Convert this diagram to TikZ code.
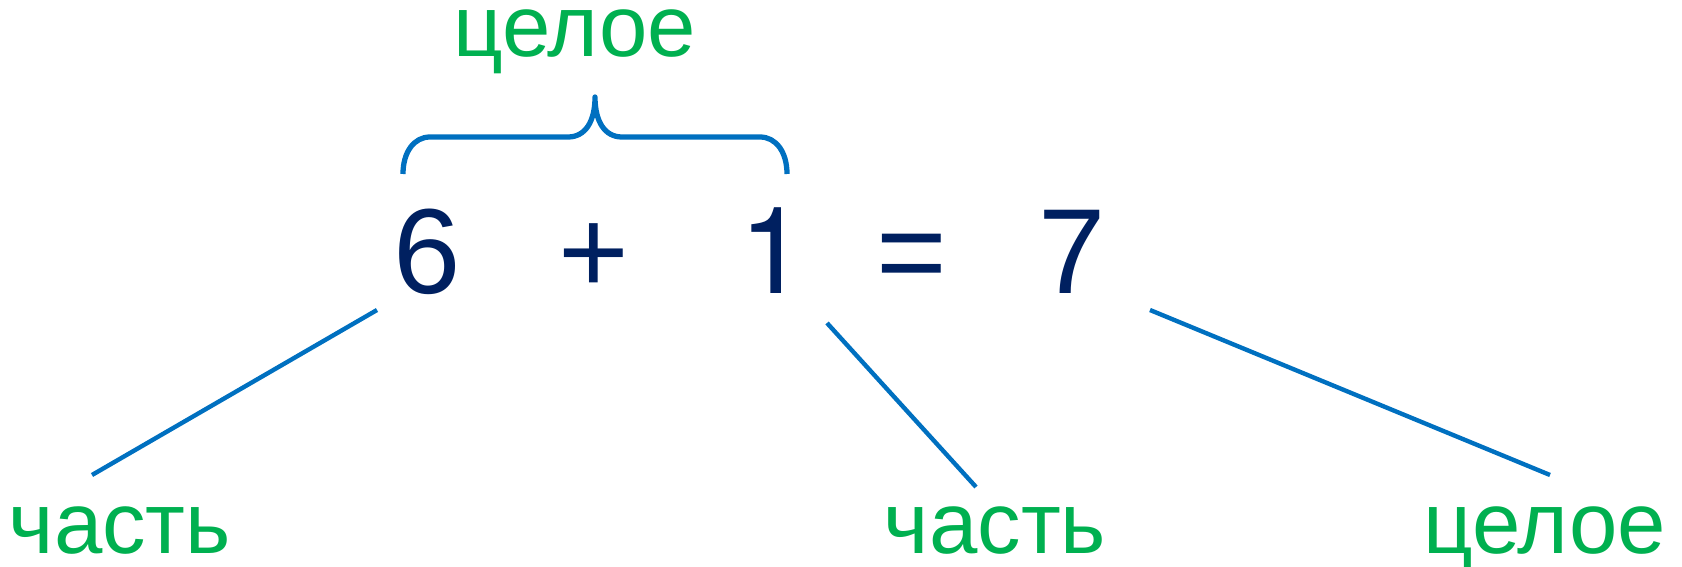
\documentclass[tikz,border=0pt]{standalone}
\usepackage{fontspec}
\setmainfont{Liberation Sans}
\newfontfamily\herosfont{TeX Gyre Heros}
\definecolor{navy}{HTML}{002060}
\definecolor{leafgreen}{HTML}{00B050}
\definecolor{lineblue}{HTML}{0070C0}
\begin{document}
\begin{tikzpicture}[x=0.02cm, y=-0.02cm,
    digit/.style={inner sep=0pt, anchor=base, text=navy, font=\fontsize{68.9pt}{80pt}\selectfont},
    word/.style={inner sep=0pt, anchor=base, text=leafgreen, font=\fontsize{49.5pt}{58pt}\selectfont},
    link/.style={draw=lineblue, line width=2.5pt},
    brace/.style={draw=lineblue, line width=3pt, line join=round}]
        \useasboundingbox (0,0) rectangle (1682,567);

        % equation
        \node[digit] (six) at (427,294) {6};
        \node[digit] (plus) at (594,294) {+};
        \node[digit] (one) at (773,294) {\herosfont 1};
        \node[digit] (eq) at (912,294) {=};
        \node[digit] (seven) at (1072,294) {7};

        % labels
        \node[word] (whole) at (575,57) {целое};
        \node[word] (partA) at (120,553) {часть};
        \node[word] (partB) at (995,553) {часть};
        \node[word] (wholeB) at (1545,553) {целое};

        % line ends
        \coordinate (sixEnd) at (377,310);
        \coordinate (partAEnd) at (92,475);
        \coordinate (oneEnd) at (827,323);
        \coordinate (partBEnd) at (976,487);
        \coordinate (sevenEnd) at (1150,310);
        \coordinate (wholeBEnd) at (1550,475);

        \draw[link] (sixEnd) -- (partAEnd);
        \draw[link] (oneEnd) -- (partBEnd);
        \draw[link] (sevenEnd) -- (wholeBEnd);

        % brace over 6 + 1
        \draw[brace] (403,174) .. controls (403,152) and (414,137) .. (430,137) -- (568,137)
            .. controls (585,137) and (595,122) .. (595,97)
            .. controls (595,122) and (605,137) .. (622,137) -- (760,137)
            .. controls (776,137) and (787,152) .. (787,174);
\end{tikzpicture}
\end{document}
